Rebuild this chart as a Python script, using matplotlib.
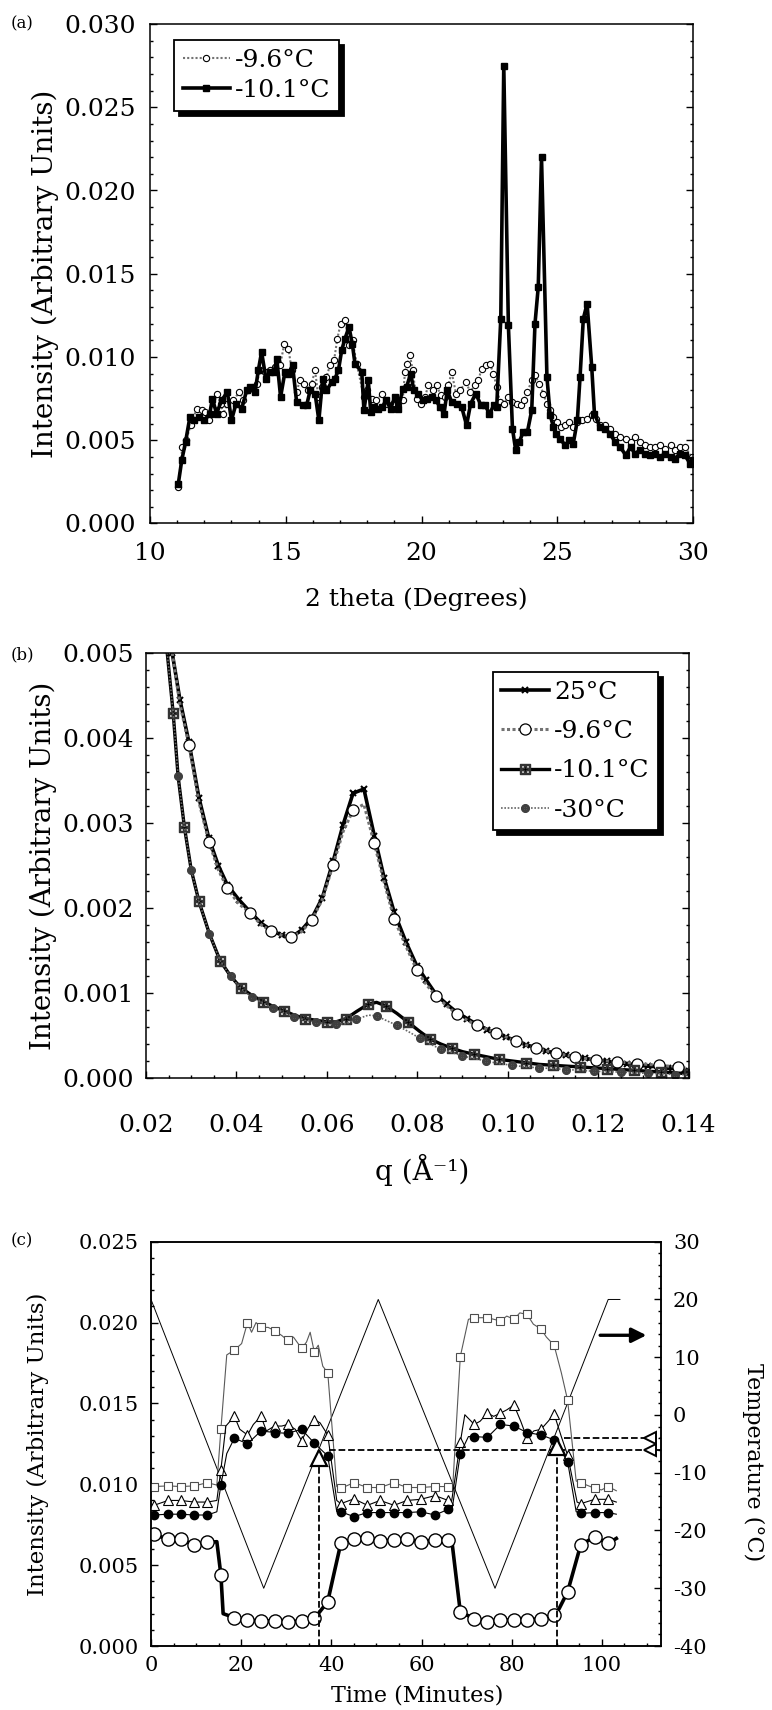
import numpy as np
import matplotlib
matplotlib.use("Agg")
import matplotlib.pyplot as plt
from matplotlib.ticker import MultipleLocator, FormatStrFormatter

plt.rcParams['font.family'] = ['DejaVu Serif']
plt.rcParams['axes.unicode_minus'] = False

############## (a) wide angle, intensity in units of 1e-3 ##############
tth_96 = [11.04, 11.19, 11.33, 11.5, 11.72, 11.9, 12.03, 12.18, 12.33, 12.45, 12.6, 12.7,
          12.85, 13.07, 13.29, 13.44, 13.62, 13.8, 13.93, 14.05, 14.24, 14.42, 14.6, 14.79,
          14.95, 15.1, 15.22, 15.4, 15.52, 15.67, 15.83, 15.95, 16.08, 16.2, 16.32, 16.5,
          16.63, 16.78, 16.9, 17.02, 17.2, 17.33, 17.46, 17.61, 17.88, 18.0, 18.16, 18.32,
          18.56, 18.72, 18.96, 19.15, 19.31, 19.39, 19.48, 19.58, 19.67, 19.82, 19.98, 20.13,
          20.25, 20.41, 20.56, 20.71, 20.87, 20.99, 21.11, 21.27, 21.42, 21.64, 21.79, 21.97,
          22.09, 22.22, 22.38, 22.52, 22.65, 22.77, 22.89, 23.04, 23.2, 23.35, 23.5, 23.65,
          23.77, 23.9, 24.06, 24.18, 24.34, 24.49, 24.61, 24.73, 24.86, 24.98, 25.13, 25.29,
          25.45, 25.59, 25.74, 25.9, 26.08, 26.27, 26.43, 26.57, 26.76, 26.94, 27.13, 27.31,
          27.53, 27.7, 27.86, 28.05, 28.23, 28.42, 28.6, 28.79, 28.97, 29.18, 29.34, 29.52,
          29.7, 29.95]
int_96 = [2.2, 4.6, 5.0, 5.9, 6.9, 6.8, 6.7, 6.2, 6.9, 7.8, 7.2, 6.6,
          7.2, 7.4, 7.9, 7.4, 8.0, 8.2, 8.4, 9.2, 9.1, 9.2, 9.4, 9.5,
          10.8, 10.5, 9.2, 7.9, 8.6, 8.4, 8.0, 8.4, 9.2, 7.6, 8.2, 8.8,
          9.5, 9.8, 11.1, 12.0, 12.2, 10.7, 11.0, 9.6, 7.6, 8.0, 7.5, 7.4,
          7.8, 7.2, 7.2, 7.2, 7.4, 9.1, 9.6, 10.1, 9.2, 7.5, 7.2, 7.6,
          8.3, 8.0, 8.3, 7.7, 7.6, 8.3, 9.1, 7.8, 8.0, 8.5, 7.9, 8.3,
          8.6, 9.3, 9.5, 9.6, 9.0, 8.2, 7.3, 7.2, 7.6, 7.3, 7.2, 7.1,
          7.4, 7.9, 8.6, 8.9, 8.4, 7.8, 7.2, 6.8, 6.4, 6.1, 5.8, 5.9,
          6.1, 5.8, 6.1, 6.2, 6.3, 6.5, 6.3, 5.9, 5.9, 5.7, 5.4, 5.2,
          5.1, 4.9, 5.2, 4.9, 4.7, 4.6, 4.6, 4.7, 4.5, 4.7, 4.4, 4.6,
          4.6, 4.0]

tth_101 = [11.04, 11.17, 11.31, 11.47, 11.63, 11.8, 12.0, 12.2, 12.3, 12.45, 12.64, 12.85,
           13.0, 13.17, 13.38, 13.56, 13.68, 13.87, 13.99, 14.11, 14.27, 14.42, 14.57, 14.67,
           14.81, 14.97, 15.1, 15.25, 15.4, 15.62, 15.77, 15.9, 16.08, 16.22, 16.36, 16.5,
           16.7, 16.81, 16.94, 17.06, 17.18, 17.33, 17.45, 17.55, 17.8, 17.88, 18.04, 18.13,
           18.25, 18.41, 18.56, 18.69, 18.86, 19.02, 19.15, 19.31, 19.45, 19.6, 19.72, 19.88,
           20.04, 20.21, 20.37, 20.53, 20.68, 20.83, 20.95, 21.11, 21.3, 21.48, 21.66, 21.81,
           22.0, 22.19, 22.34, 22.5, 22.67, 22.77, 22.92, 23.03, 23.2, 23.35, 23.47, 23.6,
           23.75, 23.9, 24.06, 24.18, 24.3, 24.42, 24.62, 24.74, 24.86, 24.95, 25.1, 25.29,
           25.45, 25.59, 25.74, 25.84, 25.96, 26.1, 26.27, 26.37, 26.57, 26.76, 26.94, 27.13,
           27.31, 27.53, 27.7, 27.86, 28.05, 28.23, 28.42, 28.6, 28.79, 28.97, 29.18, 29.34,
           29.52, 29.7, 29.89, 30.0]
int_101 = [2.36, 3.8, 4.9, 6.4, 6.2, 6.4, 6.2, 6.6, 7.5, 6.6, 7.4, 7.9,
           6.2, 7.2, 6.9, 8.0, 8.2, 7.9, 9.2, 10.3, 8.7, 9.1, 9.1, 9.9,
           7.6, 9.1, 9.0, 9.5, 7.3, 7.1, 7.1, 8.0, 7.8, 6.2, 8.7, 8.0,
           8.5, 8.7, 9.2, 10.4, 11.1, 11.8, 10.8, 9.6, 9.1, 6.8, 8.6, 6.7,
           7.0, 6.9, 7.0, 7.4, 6.9, 7.6, 6.9, 8.1, 8.2, 9.0, 8.0, 7.8,
           7.4, 7.5, 7.6, 7.4, 7.0, 6.6, 8.0, 7.3, 7.2, 7.0, 5.9, 7.2,
           7.8, 7.1, 7.1, 6.6, 7.1, 7.0, 12.3, 27.5, 11.9, 5.7, 4.4, 4.9,
           5.5, 5.5, 6.8, 12.0, 14.2, 22.0, 8.8, 6.5, 5.8, 5.4, 5.1, 4.7,
           5.0, 4.8, 6.2, 8.8, 12.3, 13.2, 9.4, 6.6, 5.8, 5.7, 5.4, 4.9,
           4.6, 4.1, 4.6, 4.2, 4.4, 4.2, 4.1, 4.2, 4.0, 4.2, 4.0, 3.9,
           4.2, 4.1, 3.6, 3.8]

############## (b) small angle, intensity in units of 1e-3 ##############
q_hi = [0.0258, 0.0275, 0.0295, 0.0317, 0.0339, 0.036, 0.038, 0.0405, 0.0431, 0.0455,
        0.0477, 0.05, 0.052, 0.0544, 0.0567, 0.059, 0.0614, 0.0636, 0.0658, 0.0682,
        0.0705, 0.0727, 0.0749, 0.0775, 0.0799, 0.082, 0.0842, 0.0865, 0.0888, 0.091,
        0.0932, 0.0955, 0.0975, 0.0997, 0.1019, 0.104, 0.1062, 0.1085, 0.1106, 0.1128,
        0.1149, 0.1172, 0.1196, 0.122, 0.1241, 0.1265, 0.1287, 0.131, 0.1334, 0.1355,
        0.1377, 0.14]
s_25 = [5.0, 4.45, 3.95, 3.3, 2.82, 2.5, 2.27, 2.1, 1.95, 1.82,
        1.74, 1.68, 1.65, 1.74, 1.88, 2.12, 2.55, 2.98, 3.35, 3.4,
        2.85, 2.35, 1.95, 1.6, 1.32, 1.15, 0.98, 0.87, 0.77, 0.7,
        0.63, 0.57, 0.53, 0.48, 0.44, 0.39, 0.36, 0.32, 0.29, 0.27,
        0.25, 0.23, 0.21, 0.2, 0.18, 0.17, 0.15, 0.14, 0.13, 0.12,
        0.1, 0.08]
s_96 = [5.0, 4.4, 3.92, 3.25, 2.78, 2.45, 2.23, 2.05, 1.94, 1.8,
        1.73, 1.68, 1.66, 1.72, 1.86, 2.1, 2.51, 2.9, 3.15, 3.22,
        2.76, 2.3, 1.87, 1.55, 1.27, 1.1, 0.96, 0.85, 0.75, 0.68,
        0.62, 0.57, 0.53, 0.48, 0.43, 0.39, 0.35, 0.32, 0.29, 0.27,
        0.25, 0.23, 0.21, 0.2, 0.19, 0.18, 0.17, 0.16, 0.15, 0.14,
        0.13, 0.11]
q_lo = [0.0247, 0.026, 0.0271, 0.0285, 0.03, 0.0317, 0.034, 0.0364, 0.0387, 0.041,
        0.0435, 0.0459, 0.0482, 0.0505, 0.0528, 0.0551, 0.0575, 0.06, 0.062, 0.0643,
        0.0665, 0.0692, 0.071, 0.073, 0.0755, 0.0779, 0.0805, 0.0828, 0.0852, 0.0877,
        0.09, 0.0925, 0.0953, 0.098, 0.101, 0.104, 0.107, 0.11, 0.113, 0.116,
        0.119, 0.122, 0.125, 0.128, 0.131, 0.134, 0.137, 0.14]
s_101 = [5.0, 4.3, 3.55, 2.95, 2.45, 2.08, 1.7, 1.38, 1.2, 1.06,
         0.97, 0.9, 0.84, 0.79, 0.74, 0.70, 0.68, 0.66, 0.66, 0.70,
         0.78, 0.87, 0.89, 0.85, 0.76, 0.66, 0.55, 0.46, 0.4, 0.35,
         0.31, 0.28, 0.25, 0.22, 0.2, 0.18, 0.16, 0.15, 0.14, 0.13,
         0.12, 0.11, 0.1, 0.09, 0.08, 0.07, 0.06, 0.05]
s_30 = [5.0, 4.3, 3.55, 2.95, 2.45, 2.08, 1.7, 1.38, 1.2, 1.05,
        0.95, 0.88, 0.82, 0.77, 0.72, 0.68, 0.66, 0.63, 0.63, 0.64,
        0.69, 0.74, 0.73, 0.68, 0.62, 0.55, 0.47, 0.4, 0.34, 0.3,
        0.26, 0.23, 0.2, 0.17, 0.15, 0.13, 0.12, 0.11, 0.1, 0.09,
        0.08, 0.075, 0.07, 0.06, 0.055, 0.05, 0.04, 0.04]

############## (c) time scan, intensity in units of 1e-3 ##############
# times at which a symbol is drawn
t_meas = [0.66, 3.8, 6.6, 9.6, 12.5, 15.5, 18.5, 21.4, 24.4, 27.4, 30.3, 33.4, 36.2, 39.2,
          42.1, 45.0, 48.0, 50.8, 53.9, 56.8, 59.8, 63.0, 65.9, 68.6, 71.7, 74.6, 77.5,
          80.5, 83.4, 86.5, 89.4, 92.4, 95.3, 98.4, 101.4]

t_sq = [0.66, 3.8, 6.6, 9.6, 12.5, 14.6, 15.5, 16.8, 18.5, 20.1, 21.4, 22.3, 23.3, 24.4,
        26.0, 27.4, 29.0, 30.3, 31.6, 33.4, 34.5, 35.3, 36.2, 37.1, 38.1, 39.2, 41.2, 42.1,
        45.0, 48.0, 50.8, 53.9, 56.8, 59.8, 63.0, 65.9, 66.9, 68.6, 70.4, 71.7, 74.6, 77.5,
        78.9, 80.5, 81.8, 83.4, 84.8, 86.5, 87.7, 89.4, 91.0, 92.4, 94.3, 95.3, 98.4, 99.9,
        101.4, 103.2]
v_sq = [9.86, 9.9, 9.86, 9.9, 10.1, 9.95, 13.4, 18.0, 18.3, 18.7, 20.0, 19.4, 20.0, 19.7,
        19.7, 19.5, 19.2, 18.9, 19.1, 18.4, 18.8, 19.4, 18.2, 18.6, 17.3, 16.9, 9.86, 9.75,
        10.1, 9.8, 9.8, 10.1, 9.8, 9.8, 9.86, 9.86, 9.75, 17.9, 20.2, 20.3, 20.3, 20.1,
        20.4, 20.2, 20.6, 20.5, 19.9, 19.6, 19.1, 18.6, 16.9, 15.2, 10.2, 10.1, 9.75, 9.65,
        9.86, 9.6]

t_tri = [0.66, 3.8, 6.6, 9.6, 12.5, 14.6, 15.5, 16.6, 18.5, 19.7, 21.4, 22.7, 24.4, 25.6,
         27.4, 29.0, 30.3, 32.0, 33.4, 34.9, 36.2, 37.5, 39.2, 41.2, 42.1, 45.0, 48.0, 50.8,
         53.9, 56.8, 59.8, 63.0, 65.9, 66.7, 68.6, 69.6, 71.7, 73.0, 74.6, 76.0, 77.5, 78.9,
         80.5, 82.0, 83.4, 84.9, 86.5, 88.1, 89.4, 91.0, 92.4, 94.5, 95.3, 98.4, 101.4, 103.2]
v_tri = [8.7, 9.0, 9.0, 8.9, 8.9, 9.0, 10.9, 13.6, 14.2, 13.4, 13.05, 13.7, 14.2, 13.3,
         13.6, 13.6, 13.7, 13.4, 12.7, 13.5, 14.0, 13.8, 13.05, 9.0, 8.8, 9.1, 8.7, 9.0,
         8.7, 9.0, 9.07, 9.3, 9.0, 9.0, 12.6, 14.3, 13.7, 13.9, 14.4, 14.2, 14.4, 14.6,
         14.9, 13.9, 12.85, 13.3, 13.4, 13.9, 14.35, 12.95, 11.8, 8.9, 8.8, 9.07, 9.07, 8.9]

t_dot = [0.66, 3.8, 6.6, 9.6, 12.5, 14.6, 15.5, 16.8, 18.5, 21.4, 24.4, 27.4, 30.3, 33.4,
         36.2, 39.2, 41.2, 42.1, 45.0, 48.0, 50.8, 53.9, 56.8, 59.8, 63.0, 65.9, 66.7, 68.6,
         70.4, 71.7, 74.6, 77.5, 80.5, 83.4, 86.5, 89.4, 92.4, 94.3, 95.3, 98.4, 101.4, 103.2]
v_dot = [8.1, 8.15, 8.15, 8.1, 8.1, 8.3, 9.95, 11.9, 12.85, 12.5, 13.3, 13.2, 13.15, 13.4,
         12.55, 11.75, 8.3, 8.3, 8.0, 8.25, 8.25, 8.25, 8.25, 8.3, 8.1, 8.45, 8.3, 11.9,
         12.95, 12.95, 12.9, 13.7, 13.6, 13.2, 13.05, 12.75, 11.4, 8.3, 8.2, 8.25, 8.25, 8.15]

t_big = [0.66, 3.8, 6.6, 9.6, 12.5, 14.6, 15.5, 16.0, 18.5, 21.4, 24.4, 27.4, 30.3, 33.4,
         36.2, 37.1, 39.2, 40.6, 42.1, 45.0, 48.0, 50.8, 53.9, 56.8, 59.8, 63.0, 65.9, 66.7,
         68.6, 71.7, 74.6, 77.5, 80.5, 83.4, 86.5, 89.4, 90.5, 92.4, 95.3, 98.4, 101.4, 103.2]
v_big = [6.9, 6.6, 6.6, 6.25, 6.4, 6.45, 4.4, 2.0, 1.75, 1.6, 1.55, 1.55, 1.5, 1.55,
         1.75, 2.0, 2.75, 4.5, 6.35, 6.6, 6.7, 6.5, 6.55, 6.6, 6.45, 6.55, 6.55, 6.55,
         2.1, 1.7, 1.5, 1.6, 1.6, 1.6, 1.7, 1.9, 2.3, 3.35, 6.25, 6.75, 6.35, 6.65]

t_temp = [0, 25.0, 50.4, 76.3, 101.4, 104.0]
temp = [20, -30, 20, -30, 20, 20]

# transition markers (time, intensity at onset, level carried to the axis)
onset_t = [37.3, 90.1]
onset_I = [11.6, 12.3]
onset_level = [12.1, 12.85]

W, H = 772, 1710
fig = plt.figure(figsize=(W / 100, H / 100), dpi=100)


def box(l, t, r, b):
    return [l / W, 1 - b / H, (r - l) / W, (b - t) / H]


def style(ax, fs, right=True):
    ax.tick_params(which='both', direction='in', top=False, right=right,
                   labelsize=fs, width=1, colors='black')
    ax.tick_params(which='major', length=5)
    ax.tick_params(which='minor', length=2.5)
    for s in ax.spines.values():
        s.set_linewidth(1.1)


#######Panel (a)#############
ax1 = fig.add_axes(box(150, 24, 693, 523.5))
ax1.plot(tth_96, np.array(int_96) * 1e-3, color='0.45', lw=1.5, ls=(0, (1, 1)),
         marker='o', ms=4.5, mfc='white', mec='black', mew=0.8, label='-9.6°C')
ax1.plot(tth_101, np.array(int_101) * 1e-3, color='black', lw=2.6,
         marker='s', ms=4.5, mfc='black', mec='black', label='-10.1°C')
ax1.set_xlim(10, 30)
ax1.set_ylim(0, 0.030)
ax1.xaxis.set_major_locator(MultipleLocator(5))
ax1.xaxis.set_minor_locator(MultipleLocator(1))
ax1.yaxis.set_major_locator(MultipleLocator(0.005))
ax1.yaxis.set_minor_locator(MultipleLocator(0.001))
ax1.yaxis.set_major_formatter(FormatStrFormatter('%.3f'))
style(ax1, 18)
ax1.tick_params(axis='x', pad=13)
ax1.tick_params(axis='y', pad=10)
ax1.set_xlabel('2 theta (Degrees)', fontsize=18)
ax1.xaxis.set_label_coords(0.49, -0.128)
ax1.set_ylabel('Intensity (Arbitrary Units)', fontsize=20)
ax1.yaxis.set_label_coords(-0.168, 0.5)
leg = ax1.legend(loc='upper left', bbox_to_anchor=(0.044, 0.968), fontsize=18,
                 frameon=True, fancybox=False, edgecolor='black', framealpha=1,
                 shadow={'ox': 3.5, 'oy': -3.5, 'color': 'black', 'alpha': 1},
                 handlelength=1.9, handletextpad=0.2, borderpad=0.35, labelspacing=0.3,
                 borderaxespad=0)
leg.get_frame().set_linewidth(1.3)

#######Panel (b)#############
ax2 = fig.add_axes(box(146, 653, 688.5, 1078))
ax2.plot(q_hi, np.array(s_25) * 1e-3, color='black', lw=2.6, marker='x', ms=5,
         mew=1.5, label='25°C')
ax2.plot(q_hi, np.array(s_96) * 1e-3, color='0.45', lw=2.2, ls=(0, (1, 0.8)),
         marker='o', ms=8, mfc='white', mec='black', mew=0.9, markevery=(2, 2),
         label='-9.6°C')
ax2.plot(q_lo, np.array(s_101) * 1e-3, color='black', lw=2.4, marker=r'$\boxplus$',
         ms=7, mec='0.2', markevery=(1, 2), label='-10.1°C')
ax2.plot(q_lo, np.array(s_30) * 1e-3, color='0.4', lw=1.2, ls=(0, (1, 1)),
         marker=r'$\oplus$', ms=5.5, mec='0.25', markevery=(2, 2), label='-30°C')
ax2.set_xlim(0.02, 0.14)
ax2.set_ylim(0, 0.005)
ax2.xaxis.set_major_locator(MultipleLocator(0.02))
ax2.xaxis.set_minor_locator(MultipleLocator(0.005))
ax2.xaxis.set_major_formatter(FormatStrFormatter('%.2f'))
ax2.yaxis.set_major_locator(MultipleLocator(0.001))
ax2.yaxis.set_minor_locator(MultipleLocator(0.0002))
ax2.yaxis.set_major_formatter(FormatStrFormatter('%.3f'))
style(ax2, 18)
ax2.tick_params(axis='x', pad=26)
ax2.tick_params(axis='y', pad=9)
ax2.set_xlabel('q (Å⁻¹)', fontsize=20)
ax2.xaxis.set_label_coords(0.509, -0.178)
ax2.set_ylabel('Intensity (Arbitrary Units)', fontsize=20)
ax2.yaxis.set_label_coords(-0.164, 0.5)
leg2 = ax2.legend(loc='upper right', bbox_to_anchor=(0.944, 0.955), fontsize=18,
                  frameon=True, fancybox=False, edgecolor='black', framealpha=1,
                  shadow={'ox': 3.5, 'oy': -3.5, 'color': 'black', 'alpha': 1},
                  handlelength=1.9, handletextpad=0.2, borderpad=0.35, labelspacing=0.65,
                  borderaxespad=0)
leg2.get_frame().set_linewidth(1.3)

#######Panel (c)#############
ax3 = fig.add_axes(box(151, 1241.7, 660.5, 1646))
ax3b = ax3.twinx()
ax3.set_zorder(ax3b.get_zorder() + 1)
ax3.patch.set_visible(False)

ax3b.plot(t_temp, temp, color='black', lw=0.7)
ax3b.set_ylim(-40, 30)
ax3b.yaxis.set_major_locator(MultipleLocator(10))
ax3b.yaxis.set_minor_locator(MultipleLocator(2))

t_meas_a = np.array(t_meas)
for tt, vv, kw_line, kw_mark in [
        (t_sq, v_sq, dict(color='0.35', lw=0.8),
         dict(marker='s', ms=6, mfc='white', mec='0.3', mew=0.8)),
        (t_tri, v_tri, dict(color='black', lw=0.8),
         dict(marker='^', ms=6.5, mfc='white', mec='black', mew=0.8)),
        (t_dot, v_dot, dict(color='black', lw=0.8),
         dict(marker='o', ms=6, mfc='black', mec='black')),
        (t_big, v_big, dict(color='black', lw=2.6),
         dict(marker='o', ms=9.5, mfc='white', mec='black', mew=1.0))]:
    tt = np.array(tt)
    vv = np.array(vv) * 1e-3
    ax3.plot(tt, vv, **kw_line)
    m = np.isin(tt, t_meas_a)
    ax3.plot(tt[m], vv[m], ls='none', **kw_mark)

xmax = 113
on_I = np.array(onset_I) * 1e-3
on_L = np.array(onset_level) * 1e-3
for k in range(2):
    ax3.plot([onset_t[k], onset_t[k]], [0, on_I[k]], color='black', ls='--', lw=1.3)
ax3.plot([onset_t[0] + 2.2, xmax], [on_L[0], on_L[0]], color='black', ls='--', lw=1.3)
ax3.plot([onset_t[1] + 1.4, xmax], [on_L[1], on_L[1]], color='black', ls='--', lw=1.3)
ax3.plot(onset_t, on_I, ls='none', marker='^', ms=11, mfc='white', mec='black', mew=1.6)
ax3.plot([110.6, 110.6], on_L, ls='none', marker='<', ms=8, mfc='white', mec='black',
         mew=1.4, clip_on=False)
ax3b.annotate('', xy=(110.5, 13.8), xytext=(99.0, 13.8),
              arrowprops=dict(arrowstyle='-|>', lw=2.4, color='black', mutation_scale=22))

ax3.set_xlim(0, xmax)
ax3.set_ylim(0, 0.025)
ax3.xaxis.set_major_locator(MultipleLocator(20))
ax3.xaxis.set_minor_locator(MultipleLocator(5))
ax3.yaxis.set_major_locator(MultipleLocator(0.005))
ax3.yaxis.set_minor_locator(MultipleLocator(0.001))
ax3.yaxis.set_major_formatter(FormatStrFormatter('%.3f'))
style(ax3, 15, right=False)
style(ax3b, 15)
ax3b.tick_params(left=False)
ax3.tick_params(axis='x', pad=7)
ax3.tick_params(axis='y', pad=9)
ax3b.tick_params(axis='y', pad=9)
ax3.set_xlabel('Time (Minutes)', fontsize=16)
ax3.xaxis.set_label_coords(0.523, -0.094)
ax3.set_ylabel('Intensity (Arbitrary Units)', fontsize=16.5)
ax3.yaxis.set_label_coords(-0.2, 0.5)
fig.text(753 / W, 1 - 1462 / H, 'Temperature (°C)', rotation=270, fontsize=16,
         ha='center', va='center')

#Panel letters
fig.text(11 / W, 1 - 23.5 / H, '(a)', fontsize=12, va='center')
fig.text(11 / W, 1 - 655 / H, '(b)', fontsize=12, va='center')
fig.text(11 / W, 1 - 1241 / H, '(c)', fontsize=12, va='center')

plt.savefig('out.png', dpi=100)
